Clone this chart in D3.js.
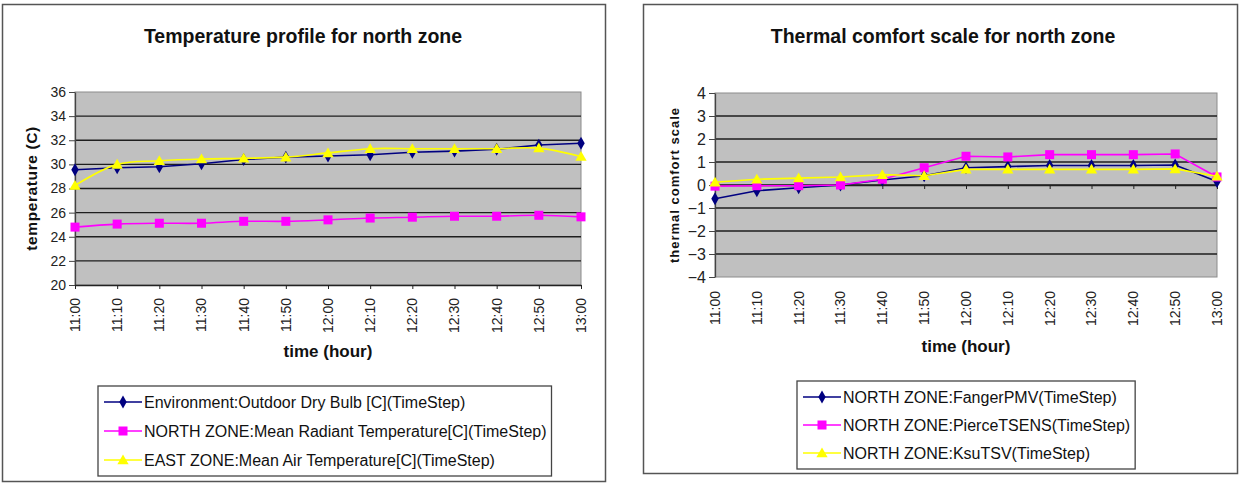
<!DOCTYPE html>
<html>
<head>
<meta charset="utf-8">
<script src="https://cdn.jsdelivr.net/npm/d3@7"></script>
<style>
  body { margin: 0; background: #fff; }
  svg { display: block; font-family: "Liberation Sans", Arial, sans-serif; }
</style>
</head>
<body>
<svg id="chart" width="1246" height="484"></svg>
<script>
// ---- data ----
const times = ["11:00", "11:10", "11:20", "11:30", "11:40", "11:50", "12:00",
               "12:10", "12:20", "12:30", "12:40", "12:50", "13:00"];

// left chart: temperature (C)
const outdoorDryBulb = [29.55, 29.72, 29.8, 30.05, 30.4, 30.6, 30.7, 30.8, 31.0, 31.1, 31.25, 31.6, 31.75];
const meanRadiant    = [24.8, 25.05, 25.12, 25.12, 25.28, 25.28, 25.4, 25.55, 25.62, 25.7, 25.7, 25.78, 25.65];
const meanAir        = [28.25, 30.0, 30.3, 30.45, 30.5, 30.6, 30.95, 31.3, 31.3, 31.3, 31.3, 31.35, 30.65];
const tempTicks = [20, 22, 24, 26, 28, 30, 32, 34, 36];

// right chart: thermal comfort scale
const fangerPMV   = [-0.6, -0.25, -0.12, 0.0, 0.22, 0.4, 0.75, 0.8, 0.85, 0.85, 0.85, 0.87, 0.15];
const pierceTSENS = [-0.05, -0.03, -0.03, 0.0, 0.25, 0.75, 1.25, 1.22, 1.32, 1.32, 1.32, 1.35, 0.35];
const ksuTSV      = [0.12, 0.25, 0.3, 0.35, 0.45, 0.4, 0.68, 0.68, 0.68, 0.68, 0.68, 0.7, 0.38];
const comfortTicks = [-4, -3, -2, -1, 0, 1, 2, 3, 4];

const NAVY = "#000080", MAGENTA = "#ff00ff", YELLOW = "#ffff00";

const svg = d3.select("#chart");

function marker(g, shape, color, x, y) {
  if (shape === "diamond") {
    g.append("path").attr("d", d3.symbol(d3.symbolDiamond, 48)())
      .attr("transform", `translate(${x},${y})`).attr("fill", color);
  } else if (shape === "square") {
    g.append("rect").attr("x", x - 4.5).attr("y", y - 4.5).attr("width", 9).attr("height", 9)
      .attr("fill", color);
  } else {
    g.append("path").attr("d", d3.symbol(d3.symbolTriangle, 55)())
      .attr("transform", `translate(${x},${y + 1})`).attr("fill", color);
  }
}

function drawChart(cfg) {
  const g = svg.append("g");

  // outer frame
  g.append("rect")
    .attr("x", cfg.frame[0]).attr("y", cfg.frame[1])
    .attr("width", cfg.frame[2]).attr("height", cfg.frame[3])
    .attr("fill", "#fff").attr("stroke", "#555").attr("stroke-width", 1.5);

  const x = d3.scalePoint().domain(times).range([cfg.left, cfg.right]);
  const y = d3.scaleLinear().domain(cfg.domain).range([cfg.bottom, cfg.top]);

  // plot area
  g.append("rect")
    .attr("x", cfg.left).attr("y", cfg.top)
    .attr("width", cfg.right - cfg.left).attr("height", cfg.bottom - cfg.top)
    .attr("fill", "#c0c0c0").attr("stroke", "#8c8c8c").attr("stroke-width", 1);

  // gridlines
  g.selectAll(".grid")
    .data(cfg.ticks.filter(t => t !== cfg.domain[0] && t !== cfg.domain[1]))
    .join("line")
    .attr("x1", cfg.left).attr("x2", cfg.right)
    .attr("y1", d => y(d)).attr("y2", d => y(d))
    .attr("stroke", "#1e1e1e").attr("stroke-width", 1.3);

  // y axis
  const yAxis = g.append("g")
    .attr("transform", `translate(${cfg.left},0)`)
    .call(d3.axisLeft(y).tickValues(cfg.ticks).tickSize(6).tickPadding(3).tickSizeOuter(0));
  yAxis.select(".domain").attr("stroke", "#444").attr("stroke-width", 1.3);
  yAxis.selectAll(".tick line").attr("stroke", "#444");
  yAxis.selectAll(".tick text")
    .attr("font-size", cfg.yFont).attr("fill", "#222")
    .attr("font-family", "'Liberation Sans', Arial, sans-serif");

  // x axis line with ticks
  const xAxis = g.append("g")
    .attr("transform", `translate(0,${y(cfg.crossAt)})`)
    .call(d3.axisBottom(x).tickSize(4).tickSizeOuter(0).tickFormat(""));
  xAxis.select(".domain").attr("stroke", "#222").attr("stroke-width", 1.5);
  xAxis.selectAll(".tick line").attr("stroke", "#222");

  // x tick labels (rotated, placed below plot)
  g.selectAll(".xlab")
    .data(times)
    .join("text")
    .attr("transform", d => `translate(${x(d)},${cfg.bottom + cfg.xLabGap}) rotate(-90)`)
    .attr("text-anchor", "end")
    .attr("dy", "0.35em")
    .attr("font-size", 14)
    .attr("fill", "#222")
    .text(d => d);

  // series
  cfg.series.forEach(s => {
    const line = d3.line()
      .x((d, i) => x(times[i]))
      .y(d => y(d))
      .curve(s.smooth ? d3.curveCatmullRom.alpha(0.5) : d3.curveLinear);
    g.append("path")
      .attr("d", line(s.values))
      .attr("fill", "none")
      .attr("stroke", s.color)
      .attr("stroke-width", 1.6);
    s.values.forEach((v, i) => marker(g, s.shape, s.color, x(times[i]), y(v)));
  });

  // titles
  g.append("text")
    .attr("x", cfg.titleX).attr("y", 43)
    .attr("text-anchor", "middle")
    .attr("font-size", 19.5).attr("font-weight", "bold").attr("fill", "#111")
    .text(cfg.title);

  g.append("text")
    .attr("transform", `translate(${cfg.yTitleX},${(cfg.top + cfg.bottom) / 2}) rotate(-90)`)
    .attr("text-anchor", "middle")
    .attr("font-size", cfg.yTitleFont).attr("font-weight", "bold").attr("fill", "#111")
    .attr("letter-spacing", cfg.yTitleSpacing)
    .text(cfg.yTitle);

  g.append("text")
    .attr("x", (cfg.left + cfg.right) / 2).attr("y", cfg.xTitleY)
    .attr("text-anchor", "middle")
    .attr("font-size", 17).attr("font-weight", "bold").attr("fill", "#111")
    .text("time (hour)");

  // legend
  const lg = g.append("g");
  const box = lg.append("rect")
    .attr("fill", "#fff").attr("stroke", "#444").attr("stroke-width", 1.3);
  let maxW = 0;
  cfg.series.forEach((s, i) => {
    const ry = cfg.legendY + 16 + i * cfg.legendStep;
    lg.append("line")
      .attr("x1", cfg.legendX + 6).attr("x2", cfg.legendX + 44)
      .attr("y1", ry).attr("y2", ry)
      .attr("stroke", s.color).attr("stroke-width", 1.3);
    marker(lg, s.shape, s.color, cfg.legendX + 25, ry);
    const t = lg.append("text")
      .attr("x", cfg.legendX + 46).attr("y", ry + 5.5)
      .attr("font-size", 16).attr("fill", "#111")
      .text(s.name);
    maxW = Math.max(maxW, t.node().getComputedTextLength());
  });
  box.attr("x", cfg.legendX).attr("y", cfg.legendY)
    .attr("width", 46 + maxW + 5).attr("height", cfg.legendH);
}

drawChart({
  frame: [2.5, 4.5, 603, 477],
  left: 75, right: 581, top: 92, bottom: 285,
  domain: [20, 36], ticks: tempTicks, crossAt: 20,
  yFont: 14, xLabGap: 13,
  title: "Temperature profile for north zone", titleX: 303,
  yTitle: "temperature (C)", yTitleX: 37, yTitleFont: 15.5, yTitleSpacing: 0.6,
  xTitleY: 357,
  legendX: 98, legendY: 386, legendStep: 29, legendH: 90,
  series: [
    { name: "Environment:Outdoor Dry Bulb [C](TimeStep)", values: outdoorDryBulb, color: NAVY, shape: "diamond", smooth: false },
    { name: "NORTH ZONE:Mean Radiant Temperature[C](TimeStep)", values: meanRadiant, color: MAGENTA, shape: "square", smooth: true },
    { name: "EAST ZONE:Mean Air Temperature[C](TimeStep)", values: meanAir, color: YELLOW, shape: "triangle", smooth: true }
  ]
});

drawChart({
  frame: [643.5, 4.5, 594, 469],
  left: 715, right: 1217, top: 93, bottom: 277,
  domain: [-4, 4], ticks: comfortTicks, crossAt: 0,
  yFont: 16, xLabGap: 14,
  title: "Thermal comfort scale for north zone", titleX: 943,
  yTitle: "thermal comfort scale", yTitleX: 679, yTitleFont: 13, yTitleSpacing: 1,
  xTitleY: 352,
  legendX: 797, legendY: 381, legendStep: 28, legendH: 88,
  series: [
    { name: "NORTH ZONE:FangerPMV(TimeStep)", values: fangerPMV, color: NAVY, shape: "diamond", smooth: false },
    { name: "NORTH ZONE:PierceTSENS(TimeStep)", values: pierceTSENS, color: MAGENTA, shape: "square", smooth: false },
    { name: "NORTH ZONE:KsuTSV(TimeStep)", values: ksuTSV, color: YELLOW, shape: "triangle", smooth: false }
  ]
});
</script>
</body>
</html>
